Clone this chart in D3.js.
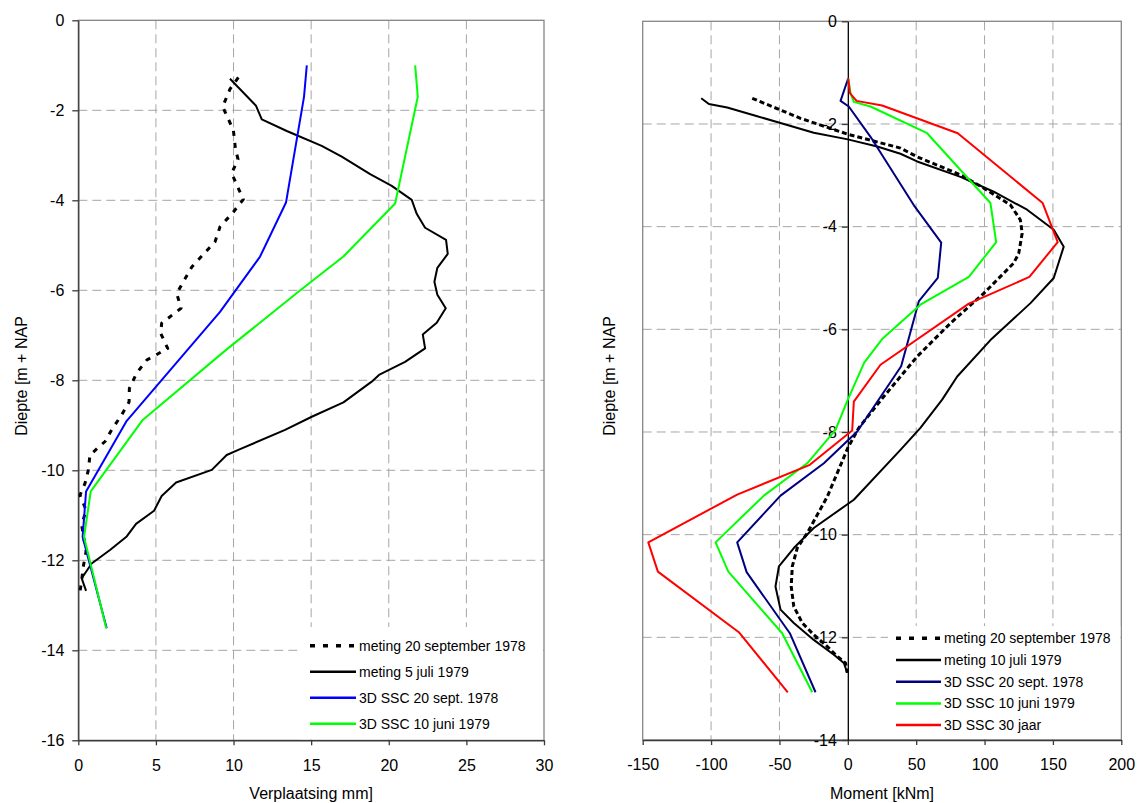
<!DOCTYPE html>
<html>
<head>
<meta charset="utf-8">
<script src="https://cdn.jsdelivr.net/npm/d3@7"></script>
<style>
  body { margin: 0; background: #fff; }
  svg text { font-family: "Liberation Sans", Arial, sans-serif; fill: #000; }
</style>
</head>
<body>
<svg id="chart" width="1138" height="803"></svg>
<script>
// [waarde, diepte] per meetreeks
var leftMeting1978 = [[10.31,-1.27],[9.77,-1.53],[9.3,-1.92],[9.99,-2.44],[10.12,-2.85],[10.29,-3.09],[9.88,-3.4],[10.63,-3.98],[9.99,-4.26],[9.13,-4.59],[8.81,-4.92],[7.31,-5.48],[6.34,-6.07],[6.62,-6.4],[5.37,-6.73],[5.31,-6.96],[5.76,-7.29],[4.41,-7.55],[3.76,-7.84],[3.29,-8.18],[3.27,-8.48],[2.79,-8.77],[2.15,-9.1],[1.72,-9.36],[0.75,-9.66],[0.65,-9.99],[0.43,-10.29],[0.11,-10.55],[0.5,-10.88],[0.22,-11.22],[0.5,-11.81],[0.32,-12.14],[0.22,-12.44],[0.11,-12.7]];
var leftMeting1979 = [[9.77,-1.3],[11.45,-1.9],[11.82,-2.2],[13.43,-2.46],[15.68,-2.79],[16.97,-3.03],[18.8,-3.42],[20.19,-3.68],[21.48,-3.99],[21.8,-4.3],[22.34,-4.61],[23.69,-4.88],[23.8,-5.19],[23.13,-5.5],[22.94,-5.81],[23.13,-6.1],[23.67,-6.4],[23.09,-6.72],[22.19,-6.98],[22.34,-7.29],[21.05,-7.59],[19.37,-7.88],[18.9,-8.03],[17.08,-8.49],[15.04,-8.81],[13.32,-9.1],[10.42,-9.53],[9.56,-9.66],[8.6,-9.99],[6.3,-10.27],[5.37,-10.57],[4.88,-10.9],[3.72,-11.19],[3.12,-11.47],[2.04,-11.77],[0.86,-12.07],[0.22,-12.4],[0.5,-12.68]];
var leftSSC1978 = [[14.72,-1.0],[14.54,-1.7],[13.38,-4.05],[11.71,-5.25],[9.13,-6.48],[3.12,-8.9],[0.5,-10.47],[0.28,-11.48],[1.83,-13.51]];
var leftSSC1979 = [[21.7,-1.0],[21.87,-1.7],[20.41,-4.07],[17.08,-5.25],[14.3,-6.0],[9.5,-7.33],[4.15,-8.88],[0.8,-10.47],[0.37,-11.48],[1.8,-13.51]];

var rightMeting1978 = [[-69.9,-1.5],[-34.6,-1.89],[0,-2.2],[38.5,-2.47],[50.7,-2.64],[82.4,-2.99],[99.4,-3.25],[119,-3.58],[126.2,-3.87],[127.5,-4.13],[125,-4.52],[121.3,-4.71],[99.4,-5.3],[75.1,-5.88],[50.7,-6.53],[26.3,-7.31],[8,-7.92],[0,-8.31],[-15,-9.26],[-29.7,-9.97],[-37,-10.26],[-40.6,-10.62],[-41.4,-11.01],[-39.5,-11.4],[-33.3,-11.72],[-24.9,-11.95],[-15,-12.18],[-7.7,-12.37],[-1.7,-12.5],[-0.4,-12.69]];
var rightMeting1979 = [[-107.2,-1.5],[-101.6,-1.61],[-88.2,-1.68],[-67.5,-1.84],[-48,-1.99],[-24.9,-2.17],[0,-2.3],[21.5,-2.44],[38.5,-2.58],[50.7,-2.73],[82.4,-3.03],[106.7,-3.32],[131.1,-3.67],[150.6,-4.06],[157.9,-4.39],[150.6,-5.0],[133.6,-5.49],[104.3,-6.21],[80,-6.92],[69,-7.37],[53.1,-7.92],[38.5,-8.35],[4.4,-9.32],[-24.9,-9.87],[-39.5,-10.26],[-50.4,-10.62],[-52.9,-11.01],[-49.2,-11.46],[-39.5,-11.72],[-24.9,-12.05],[-10.2,-12.34],[-2.9,-12.5],[-0.4,-12.69]];
var rightSSC1978 = [[0.3,-1.11],[-5.3,-1.55],[0.7,-1.66],[16.6,-2.25],[48.2,-3.58],[68.3,-4.31],[65.8,-5.0],[52,-5.45],[39,-6.72],[6.9,-7.99],[-17.5,-8.61],[-49.2,-9.24],[-80.9,-10.15],[-74,-10.73],[-42.4,-11.92],[-23.6,-13.07]];
var rightSSC1979 = [[0.3,-1.11],[2,-1.4],[4.4,-1.57],[16.6,-1.66],[58,-2.18],[104.3,-3.54],[108.5,-4.3],[88.5,-4.98],[53.1,-5.52],[25.1,-6.19],[12,-6.65],[0,-7.37],[-9,-7.96],[-29.7,-8.61],[-61.4,-9.24],[-96.7,-10.15],[-87.4,-10.72],[-48,-11.92],[-26,-13.07]];
var rightSSC30 = [[0.3,-1.11],[1.5,-1.4],[6.4,-1.55],[25.1,-1.64],[80.4,-2.18],[142.5,-3.54],[153.5,-4.3],[132.8,-4.98],[88.5,-5.5],[23.9,-6.69],[4.4,-7.41],[3.2,-7.97],[-27.8,-8.64],[-80.9,-9.22],[-145.9,-10.15],[-138.9,-10.72],[-79.7,-11.9],[-43.9,-13.07]];

var leftXTicks = [0, 5, 10, 15, 20, 25, 30];
var leftYTicks = [0, -2, -4, -6, -8, -10, -12, -14, -16];
var rightXTicks = [-150, -100, -50, 0, 50, 100, 150, 200];
var rightYTicks = [0, -2, -4, -6, -8, -10, -12, -14];

var leftNames = ["meting 20 september 1978", "meting 5 juli 1979", "3D SSC 20 sept. 1978", "3D SSC 10 juni 1979"];
var rightNames = ["meting 20 september 1978", "meting 10 juli 1979", "3D SSC 20 sept. 1978", "3D SSC 10 juni 1979", "3D SSC 30 jaar"];

var svg = d3.select("#chart");

var gridColor = "#a6a6a6", borderColor = "#868686", axisColor = "#3a3a3a";

function plain(d) { return String(d); }   // gewoon koppelteken als minteken

function panel(opt) {
  var x = d3.scaleLinear().domain(opt.xDomain).range([opt.left, opt.right]);
  var y = d3.scaleLinear().domain(opt.yDomain).range([opt.top, opt.bottom]);
  var g = svg.append("g");

  // grid
  g.selectAll("line.vgrid")
      .data(opt.xTicks.filter(function(t) { return t !== opt.xDomain[0] && t !== opt.xDomain[1] && t !== opt.yAxisAt; }))
    .enter().append("line")
      .attr("x1", function(d) { return x(d); }).attr("x2", function(d) { return x(d); })
      .attr("y1", opt.top).attr("y2", opt.bottom)
      .attr("stroke", gridColor).attr("stroke-dasharray", "9,5");
  g.selectAll("line.hgrid")
      .data(opt.yTicks.filter(function(t) { return t !== opt.yDomain[0] && t !== opt.yDomain[1]; }))
    .enter().append("line")
      .attr("x1", opt.left).attr("x2", opt.right)
      .attr("y1", function(d) { return y(d); }).attr("y2", function(d) { return y(d); })
      .attr("stroke", gridColor).attr("stroke-dasharray", "9,5");

  // frame
  g.append("rect")
    .attr("x", opt.left).attr("y", opt.top)
    .attr("width", opt.right - opt.left).attr("height", opt.bottom - opt.top)
    .attr("fill", "none").attr("stroke", borderColor).attr("stroke-width", 1.3);

  // legend box hides grid
  g.append("rect")
    .attr("x", opt.legend.boxX).attr("y", opt.legend.boxY)
    .attr("width", opt.right - opt.legend.boxX - 1).attr("height", opt.bottom - opt.legend.boxY - 1)
    .attr("fill", "#fff");

  // axes
  var xAxis = d3.axisBottom(x).tickValues(opt.xTicks).tickFormat(plain).tickSize(5).tickSizeOuter(0).tickPadding(14);
  var gx = g.append("g").attr("transform", "translate(0," + opt.bottom + ")").call(xAxis);
  var yAxis = d3.axisLeft(y).tickValues(opt.yTicks).tickFormat(plain).tickSize(6).tickSizeOuter(0).tickPadding(opt.yPad);
  var gy = g.append("g").attr("transform", "translate(" + x(opt.yAxisAt) + ",0)").call(yAxis);
  [gx, gy].forEach(function(a) {
    a.selectAll("text").style("font-size", "16px").attr("fill", "#000");
    a.selectAll("line").attr("stroke", axisColor).attr("stroke-width", 1.3);
  });
  gx.select(".domain").attr("stroke", axisColor).attr("stroke-width", 1.5);
  gy.select(".domain").attr("stroke", opt.yAxisAt === opt.xDomain[0] ? axisColor : "#000").attr("stroke-width", 1.3);

  // series
  var line = d3.line().x(function(d) { return x(d[0]); }).y(function(d) { return y(d[1]); });
  opt.series.forEach(function(s) {
    g.append("path")
      .datum(s.data)
      .attr("d", line)
      .attr("fill", "none")
      .attr("stroke", s.color)
      .attr("stroke-width", s.dash ? 3 : 2)
      .attr("stroke-dasharray", s.dash || null)
      .attr("stroke-linejoin", "round");
  });

  // legend
  var lg = g.append("g");
  opt.series.forEach(function(s, i) {
    var yy = opt.legend.y0 + i * opt.legend.step;
    lg.append("line")
      .attr("x1", opt.legend.x0).attr("x2", opt.legend.x1)
      .attr("y1", yy).attr("y2", yy)
      .attr("stroke", s.color)
      .attr("stroke-width", s.dash ? 3.5 : 2.5)
      .attr("stroke-dasharray", s.dash ? "5,8" : null);
    lg.append("text")
      .attr("x", opt.legend.x1 + 3).attr("y", yy + 5)
      .style("font-size", "14px")
      .text(s.name);
  });

  // titles
  g.append("text")
    .attr("x", (opt.left + opt.right) / 2).attr("y", 799)
    .attr("text-anchor", "middle").style("font-size", "16px")
    .text(opt.xTitle);
  g.append("text")
    .attr("transform", "translate(" + opt.yTitleX + ",376) rotate(-90)")
    .attr("text-anchor", "middle").style("font-size", "16px")
    .text("Diepte [m + NAP");
}

panel({
  left: 78.3, right: 544, top: 20.3, bottom: 740.3,
  xDomain: [0, 30], yDomain: [0, -16],
  xTicks: leftXTicks, yTicks: leftYTicks,
  yAxisAt: 0, yPad: 8, yTitleX: 27,
  xTitle: "Verplaatsing mm]",
  legend: { boxX: 300, boxY: 627, x0: 310, x1: 356, y0: 645.7, step: 26 },
  series: [
    { name: leftNames[0], data: leftMeting1978, color: "#000", dash: "5,7" },
    { name: leftNames[1], data: leftMeting1979, color: "#000" },
    { name: leftNames[2], data: leftSSC1978, color: "#0000ff" },
    { name: leftNames[3], data: leftSSC1979, color: "#00ff00" }
  ]
});

panel({
  left: 642.7, right: 1121.3, top: 21.3, bottom: 740,
  xDomain: [-150, 200], yDomain: [0, -14],
  xTicks: rightXTicks, yTicks: rightYTicks,
  yAxisAt: 0, yPad: 5, yTitleX: 615,
  xTitle: "Moment [kNm]",
  legend: { boxX: 888, boxY: 626, x0: 896, x1: 941, y0: 638.3, step: 21.7 },
  series: [
    { name: rightNames[0], data: rightMeting1978, color: "#000", dash: "5,3" },
    { name: rightNames[1], data: rightMeting1979, color: "#000" },
    { name: rightNames[2], data: rightSSC1978, color: "#000080" },
    { name: rightNames[3], data: rightSSC1979, color: "#00ff00" },
    { name: rightNames[4], data: rightSSC30, color: "#ff0000" }
  ]
});
</script>
</body>
</html>
